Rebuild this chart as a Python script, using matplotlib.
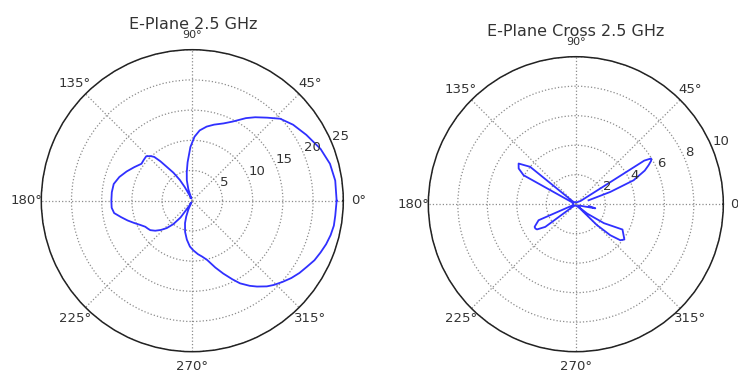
import numpy as np
import matplotlib
matplotlib.use("Agg")
import matplotlib.pyplot as plt

# E-plane co-pol, angle (deg) and amplitude
e_ang = [0, 8, 15, 22, 30, 37, 43, 48, 53, 57, 63, 68, 74, 79, 84, 88, 92, 97, 101, 105,
         109, 113, 117, 119, 121, 124, 127, 129, 131, 133, 136, 140, 144, 150, 156, 162,
         168, 174, 180, 185, 189, 193, 197, 201, 205, 209, 212, 215, 219, 223, 227, 231,
         235, 239, 242, 246, 249, 252, 257, 262, 267, 271, 276, 280, 284, 289, 293, 297,
         300, 304, 307, 311, 314, 318, 322, 326, 330, 334, 338, 342, 346, 350, 354, 360]
e_val = [23.9, 23.9, 23.6, 22.9, 21.8, 20.9, 19.9, 18.5, 17.3, 16.3, 14.7, 13.8, 13.1, 12.5,
         11.7, 10.6, 8.9, 6.4, 4.8, 3.5, 2.0, 0.4, 1.0, 2.6, 4.0, 5.6, 7.0, 8.4, 9.6, 10.1,
         10.6, 10.5, 10.4, 11.1, 11.9, 12.7, 13.3, 13.4, 13.4, 13.4, 13.1, 12.1, 11.2, 10.3,
         9.5, 8.9, 8.7, 8.5, 7.9, 7.1, 6.2, 5.0, 3.4, 1.0, 0.3, 1.6, 2.8, 3.9, 5.3, 6.5, 7.6,
         8.2, 8.9, 9.4, 10.1, 11.7, 13.1, 14.6, 15.8, 17.0, 17.8, 18.8, 19.4, 20.1, 20.8,
         21.4, 21.9, 22.5, 22.9, 23.3, 23.6, 23.8, 23.8, 23.9]

# E-plane cross-pol
c_ang = [17, 19.6, 22.5, 26, 28.2, 30, 31.3, 32.5, 34, 60, 100, 136, 140.7, 144.6, 148, 151,
         153, 180, 199, 203.3, 208.8, 211, 213, 216.6, 220, 260, 300, 314, 315.3, 318, 321,
         324, 331.5, 326, 320.3, 318, 335, 348, 352]
c_val = [0.9, 2.48, 4.24, 5.2, 5.6, 5.9, 5.97, 5.5, 0.4, 0.15, 0.15, 0.2, 4.0, 4.76, 4.57,
         4.05, 0.3, 0.15, 0.2, 2.75, 3.19, 3.2, 3.14, 2.58, 0.2, 0.1, 0.15, 0.4, 2.0, 3.14,
         3.88, 4.07, 3.6, 2.3, 0.99, 0.4, 0.2, 1.35, 0.9]

theta_ticks = [0, 45, 90, 135, 180, 225, 270, 315]
e_rticks = [5, 10, 15, 20, 25]
c_rticks = [2, 4, 6, 8, 10]


def setup(ax, rmax, rticks):
    ax.set_ylim(0, rmax)
    ax.set_xticks(np.deg2rad(theta_ticks))
    ax.set_xticklabels([])
    ax.set_yticks(rticks)
    ax.set_yticklabels([])
    ax.grid(True, color="0.55", linestyle=":", linewidth=0.9)
    ax.spines["polar"].set_color("#222222")
    ax.spines["polar"].set_linewidth(1.1)
    for t in theta_ticks:
        ax.text(np.deg2rad(t), 1.1 * rmax, "%d\u00b0" % t, ha="center", va="center",
                fontsize=8 if t == 90 else 9.5, color="#333333", clip_on=False)
    for r in rticks:
        ax.text(np.deg2rad(22.5), r, str(r), ha="left", va="bottom",
                fontsize=9.5, color="#333333", clip_on=False)


fig = plt.figure(figsize=(7.38, 3.73), dpi=100)

ax1 = fig.add_axes([0.05596, 0.0571, 0.4092, 0.8097], projection="polar")
setup(ax1, 25, e_rticks)
ax1.plot(np.deg2rad(e_ang), e_val, color="#3030ff", linewidth=1.3)

ax2 = fig.add_axes([0.5804, 0.0571, 0.3997, 0.7909], projection="polar")
setup(ax2, 10, c_rticks)
ax2.plot(np.deg2rad(c_ang), c_val, color="#3030ff", linewidth=1.3)

fig.text(193 / 738, 1 - 29 / 373, "E-Plane 2.5 GHz", ha="center", va="baseline",
         fontsize=11.5, color="#333333")
fig.text(575.5 / 738, 1 - 36 / 373, "E-Plane Cross 2.5 GHz", ha="center", va="baseline",
         fontsize=11.5, color="#333333")

fig.savefig("out.png", dpi=100)
